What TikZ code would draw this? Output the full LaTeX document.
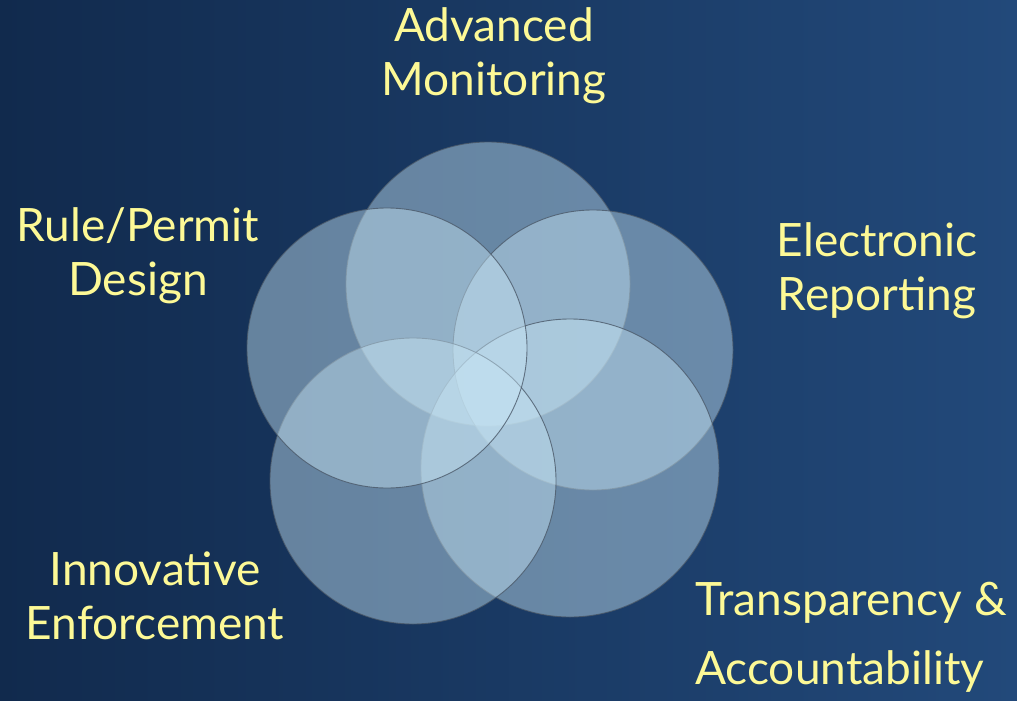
\documentclass[tikz,border=0pt]{standalone}
\usepackage{fontspec}
\setmainfont{Lato}
\usepackage{xcolor}
\usepackage{tikz}
\usetikzlibrary{positioning}
\definecolor{slideDark}{HTML}{112A4D}
\definecolor{slideLight}{HTML}{22497A}
\definecolor{vennFill}{HTML}{C8E6F5}
\definecolor{vennEdge}{HTML}{4A5868}
\definecolor{labelYellow}{HTML}{FDF996}
\tikzset{
  venn circle/.style={circle, fill=vennFill, fill opacity=0.45,
    draw=vennEdge, draw opacity=0.8, line width=0.9pt,
    inner sep=0pt, minimum size=#1},
  area label/.style={text=labelYellow, align=center,
    font=\fontsize{46}{54}\selectfont}
}

\begin{document}
\begin{tikzpicture}[x=1pt, y=-1pt]
  % slide background
  \useasboundingbox (0,0) rectangle (1017,701);
  \shade[left color=slideDark, right color=slideLight] (0,0) rectangle (1017,701);
  % the five overlapping areas
  \node[venn circle=284pt] (monitor) at (488,284) {};
  \node[venn circle=280pt] (report) at (593,350) {};
  \node[venn circle=298pt] (transp) at (570,468) {};
  \node[venn circle=286pt] (enforce) at (413,481) {};
  \node[venn circle=280pt] (design) at (387,348) {};
  % labels round the outside
  \node[area label] (monitorlbl) at (494,56) {Advanced\\Monitoring};
  \node[area label] (designlbl) at (138,256) {Rule/Permit\\Design};
  \node[area label] (reportlbl) at (877,271) {Electronic\\Reporting};
  \node[area label] (enforcelbl) at (155,596) {Innovative\\Enforcement};
  \node[area label, align=left, font=\fontsize{46}{69}\selectfont]
    (transplbl) at (851,637) {Transparency \&\\Accountability};
\end{tikzpicture}
\end{document}
